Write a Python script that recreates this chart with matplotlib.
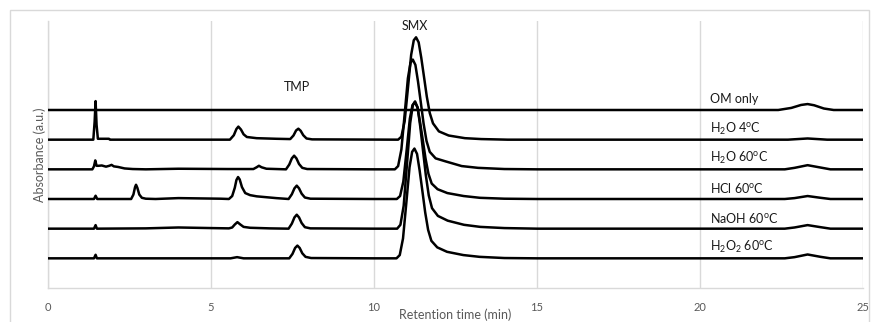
import matplotlib
matplotlib.use("Agg")
import matplotlib.pyplot as plt
from matplotlib.patches import Rectangle

plt.rcParams['font.family'] = ['Lato', 'DejaVu Sans']
plt.rcParams['mathtext.fontset'] = 'custom'
plt.rcParams['mathtext.rm'] = 'Lato'

# 各样品色谱数据（保留时间 min，吸光度 a.u.，相对各自基线）
labels = ["OM only",
          r"H$\mathregular{_2}$O 4$\mathregular{^o}$C",
          r"H$\mathregular{_2}$O 60$\mathregular{^o}$C",
          r"HCl 60$\mathregular{^o}$C",
          r"NaOH 60$\mathregular{^o}$C",
          r"H$\mathregular{_2}$O$\mathregular{_2}$ 60$\mathregular{^o}$C"]

rt_om = [0, 22.4, 22.8, 23.1, 23.3, 23.5, 23.8, 24.1, 25]
abs_om = [0, 0, 0.07, 0.17, 0.2, 0.16, 0.05, 0, 0]

rt_h2o_4 = [0, 1.39, 1.43, 1.46, 1.49, 1.53, 1.87, 1.9,
            5.58, 5.7, 5.78, 5.84, 5.92, 6.0, 6.1, 6.4, 7.0,
            7.43, 7.53, 7.61, 7.68, 7.75, 7.83, 7.93, 8.1,
            10.74, 10.84, 10.94, 11.04, 11.14, 11.22, 11.29, 11.37, 11.45,
            11.54, 11.62, 11.71, 11.81, 11.99, 12.29, 12.79, 13.29, 14.1,
            22.7, 23.3, 23.9, 25]
abs_h2o_4 = [0, 0, 0.6, 1.3, 0.5, 0.03, 0.03, 0,
             0, 0.15, 0.36, 0.44, 0.34, 0.18, 0.09, 0.05, 0.03,
             0.02, 0.14, 0.31, 0.37, 0.3, 0.15, 0.04, 0.01,
             0, 0.1, 0.62, 1.73, 2.86, 3.35, 3.45, 3.28, 2.76,
             2.07, 1.45, 0.9, 0.55, 0.28, 0.14, 0.05, 0.02, 0,
             0, 0.04, 0, 0]

rt_h2o_60 = [0, 1.36, 1.41, 1.45, 1.49, 1.55, 1.65, 1.78, 1.88, 1.95, 2.02, 2.15, 2.35, 2.6, 3.0,
             4.0, 5.5,
             6.3, 6.4, 6.47, 6.55, 6.7, 7.0,
             7.3, 7.4, 7.48, 7.55, 7.62, 7.7, 7.8, 7.95, 10.0,
             10.64, 10.74, 10.84, 10.94, 11.04, 11.12, 11.19, 11.27, 11.35, 11.44,
             11.52, 11.61, 11.71, 11.89, 12.19, 12.69, 13.19, 14.0, 15.0,
             22.6, 22.9, 23.3, 23.7, 24.0, 25]
abs_h2o_60 = [0, 0, 0.1, 0.3, 0.12, 0.12, 0.13, 0.09, 0.12, 0.15, 0.1, 0.08, 0.03, 0.01, 0,
              0.02, 0.01,
              0.01, 0.07, 0.12, 0.07, 0.02, 0.01,
              0, 0.16, 0.37, 0.46, 0.37, 0.18, 0.05, 0.01, 0,
              0, 0.11, 0.67, 1.85, 3.07, 3.59, 3.7, 3.52, 2.96, 2.22,
              1.55, 0.96, 0.59, 0.37, 0.27, 0.11, 0.05, 0.01, 0,
              0, 0.05, 0.14, 0.06, 0, 0]

rt_hcl = [0, 1.41, 1.46, 1.51,
          2.55, 2.62, 2.67, 2.7, 2.74, 2.8, 2.88, 3.0, 3.3,
          4.0, 5.3,
          5.55, 5.65, 5.73, 5.78, 5.83, 5.88, 5.95, 6.05, 6.2, 6.4, 6.7, 7.0,
          7.38, 7.48, 7.56, 7.63, 7.7, 7.78, 7.88, 8.05, 10.0,
          10.7, 10.8, 10.9, 11.0, 11.1, 11.18, 11.25, 11.33, 11.41, 11.5,
          11.58, 11.67, 11.77, 11.95, 12.25, 12.75, 13.25, 14.0, 15.0,
          22.6, 22.9, 23.3, 23.7, 24.0, 25]
abs_hcl = [0, 0, 0.11, 0,
           0, 0.15, 0.4, 0.48, 0.38, 0.15, 0.04, 0.01, 0,
           0.03, 0.01,
           0, 0.1, 0.38, 0.64, 0.74, 0.66, 0.4, 0.2, 0.13, 0.09, 0.06, 0.03,
           0, 0.16, 0.36, 0.45, 0.36, 0.18, 0.05, 0.01, 0,
           0, 0.1, 0.59, 1.63, 2.71, 3.16, 3.26, 3.1, 2.61, 1.96,
           1.37, 0.85, 0.52, 0.33, 0.2, 0.1, 0.04, 0.01, 0,
           0, 0.03, 0.1, 0.04, 0, 0]

rt_naoh = [0, 1.41, 1.46, 1.5,
           3.0, 4.0, 5.0,
           5.55, 5.65, 5.73, 5.81, 5.9, 6.0, 6.2, 6.8,
           7.38, 7.48, 7.56, 7.63, 7.7, 7.78, 7.88, 8.05, 10.0,
           10.71, 10.81, 10.91, 11.01, 11.11, 11.19, 11.26, 11.34, 11.42, 11.51,
           11.59, 11.68, 11.78, 11.96, 12.26, 12.76, 13.26, 14.0, 15.0,
           22.6, 22.9, 23.3, 23.7, 24.0, 25]
abs_naoh = [0, 0, 0.12, 0,
            0.01, 0.04, 0.02,
            0.01, 0.04, 0.14, 0.22, 0.14, 0.06, 0.03, 0.01,
            0, 0.17, 0.38, 0.47, 0.38, 0.19, 0.05, 0.01, 0,
            0, 0.13, 0.77, 2.15, 3.56, 4.16, 4.29, 4.08, 3.43, 2.57,
            1.8, 1.12, 0.69, 0.43, 0.27, 0.13, 0.06, 0.02, 0,
            0, 0.04, 0.12, 0.05, 0, 0]

rt_h2o2 = [0, 1.41, 1.46, 1.5,
           5.6, 5.8, 6.0,
           7.4, 7.5, 7.58, 7.65, 7.72, 7.8, 7.9, 8.07, 10.0,
           10.69, 10.79, 10.89, 10.99, 11.09, 11.17, 11.24, 11.32, 11.4, 11.49,
           11.57, 11.66, 11.76, 11.94, 12.24, 12.74, 13.24, 14.0, 15.0,
           22.6, 22.9, 23.3, 23.7, 24.0, 25]
abs_h2o2 = [0, 0, 0.12, 0,
            0, 0.04, 0,
            0, 0.15, 0.35, 0.43, 0.35, 0.17, 0.05, 0.01, 0,
            0, 0.11, 0.67, 1.85, 3.07, 3.59, 3.7, 3.52, 2.96, 2.22,
            1.55, 0.96, 0.59, 0.37, 0.22, 0.11, 0.05, 0.01, 0,
            0, 0.04, 0.13, 0.05, 0, 0]

traces = [(rt_om, abs_om), (rt_h2o_4, abs_h2o_4), (rt_h2o_60, abs_h2o_60),
          (rt_hcl, abs_hcl), (rt_naoh, abs_naoh), (rt_h2o2, abs_h2o2)]

grid_color = "#d9d9d9"
text_grey = "#595959"

fig = plt.figure(figsize=(8.72, 3.22), dpi=100)
ax = fig.add_axes([48 / 872, 34 / 322, 815 / 872, 267 / 322])

# 堆叠绘制，每条曲线上移 1 个单位
n = len(traces)
for i, (rt, a) in enumerate(traces):
    offset = n - i
    ax.plot(rt, [v + offset for v in a], color="black", lw=1.8,
            solid_joinstyle="round", solid_capstyle="butt", zorder=3)
    ax.text(20.3, offset + 0.37, labels[i], fontsize=9, color="#1a1a1a",
            ha="left", va="center")

ax.text(11.26, 8.83, "SMX", fontsize=9, color="#1a1a1a", ha="center", va="center")
ax.text(7.64, 6.77, "TMP", fontsize=9, color="#1a1a1a", ha="center", va="center")

ax.set_xlim(0, 25)
ax.set_ylim(0, 9)
ax.set_xticks([0, 5, 10, 15, 20, 25])
ax.set_yticks([])
ax.grid(True, axis="x", color=grid_color, lw=1)
for side in ["top", "right"]:
    ax.spines[side].set_visible(False)
for side in ["left", "bottom"]:
    ax.spines[side].set_color(grid_color)
    ax.spines[side].set_linewidth(1)
ax.tick_params(axis="x", length=0, pad=10, labelsize=8, labelcolor=text_grey)

ax.set_xlabel("Retention time (min)", fontsize=9, color=text_grey)
ax.xaxis.set_label_coords(0.5, -0.078)
ax.set_ylabel("Absorbance (a.u.)", fontsize=9, color=text_grey)
ax.yaxis.set_label_coords(-0.003, 0.5)

# 图表外框
fig.add_artist(Rectangle((10 / 872, -0.05), 859 / 872, 312 / 322 + 0.05,
                         transform=fig.transFigure, fill=False,
                         ec=grid_color, lw=1))

plt.savefig("out.png", dpi=100)
